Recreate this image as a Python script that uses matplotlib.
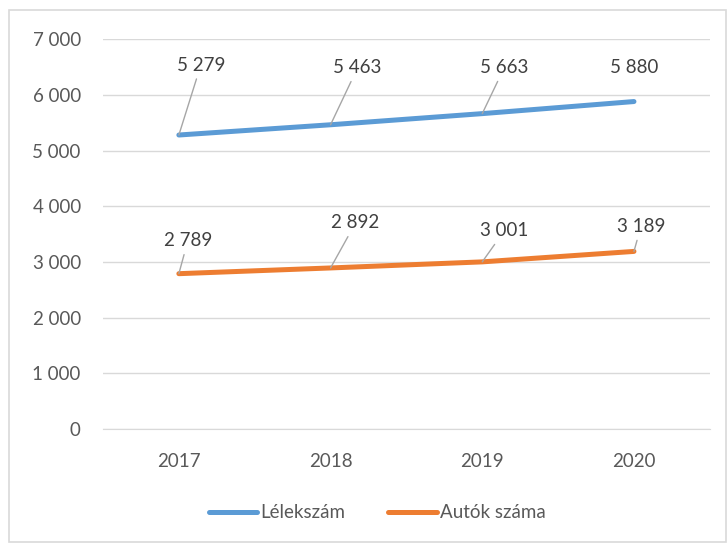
import matplotlib
matplotlib.use('Agg')
import matplotlib.pyplot as plt
from matplotlib.patches import Rectangle
from matplotlib.ticker import FuncFormatter

plt.rcParams['font.family'] = ['Lato', 'DejaVu Sans']

years = ['2017', '2018', '2019', '2020']
lelekszam = [5279, 5463, 5663, 5880]
autok = [2789, 2892, 3001, 3189]

BLUE = '#5B9BD5'
ORANGE = '#ED7D31'
TXT = '#595959'
GRID = '#d9d9d9'
FS = 13.5

# label offsets in pixels (dx, dy) from each point
blue_off = [(22, 70), (27, 57), (22, 46), (0, 34)]
orange_off = [(9, 33), (25, 45), (22, 31), (7, 25)]

fig = plt.figure(figsize=(7.28, 5.44), dpi=100)
ax = fig.add_axes([0.1415, 0.2114, 0.8335, 0.7166])

xs = list(range(len(years)))
ax.plot(xs, lelekszam, color=BLUE, lw=3.6, solid_capstyle='round', label='Lélekszám', zorder=3)
ax.plot(xs, autok, color=ORANGE, lw=3.6, solid_capstyle='round', label='Autók száma', zorder=3)

fmt = lambda v: f'{int(v):,}'.replace(',', ' ')

for series, offs in ((lelekszam, blue_off), (autok, orange_off)):
    for x, v, (dx, dy) in zip(xs, series, offs):
        leader = dict(arrowstyle='-', color='#a6a6a6', lw=1, shrinkA=2, shrinkB=0)
        if dx == 0:
            leader = None
        ax.annotate(fmt(v), (x, v), xytext=(dx, dy), textcoords='offset pixels',
                    ha='center', va='center', fontsize=FS, color='#404040',
                    arrowprops=leader, zorder=4)

ax.set_xlim(-0.5, 3.5)
ax.set_ylim(0, 7000)
ax.set_yticks(range(0, 7001, 1000))
ax.yaxis.set_major_formatter(FuncFormatter(lambda v, p: fmt(v)))
ax.set_xticks(xs)
ax.set_xticklabels(years)
ax.tick_params(axis='both', length=0, labelsize=FS, labelcolor=TXT)
ax.tick_params(axis='y', pad=16)
ax.tick_params(axis='x', pad=17)
ax.grid(axis='y', color=GRID, lw=1)
ax.set_axisbelow(True)
for s in ('top', 'right', 'left'):
    ax.spines[s].set_visible(False)
ax.spines['bottom'].set_color(GRID)

fig.legend(loc='center', bbox_to_anchor=(0.518, 0.057), ncol=2, frameon=False,
           fontsize=FS, labelcolor=TXT, handlelength=2.6, handletextpad=0.15,
           columnspacing=2.3)

fig.patches.append(Rectangle((9 / 728, 2 / 544), 717 / 728, 532 / 544,
                             transform=fig.transFigure, fill=False,
                             edgecolor=GRID, lw=1.2))

fig.savefig('out.png', dpi=100)
